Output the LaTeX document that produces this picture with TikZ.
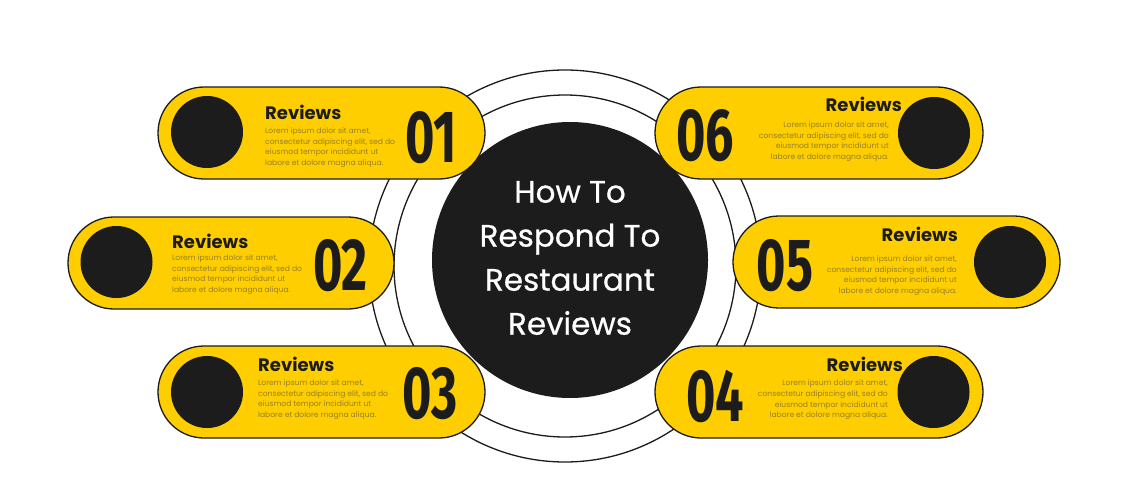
\documentclass[tikz,border=0pt]{standalone}
\usepackage{fontspec}
\usepackage{graphicx}
\setmainfont{Lato}
\newfontfamily\popp{Poppins}
\newfontfamily\poppm[FakeBold=0.6]{Poppins}
\newfontfamily\fira{Fira Sans}
\definecolor{ylw}{RGB}{254,206,0}
\definecolor{ink}{RGB}{28,28,28}
\definecolor{lorem}{RGB}{150,128,40}
\newcommand{\lorem}{Lorem ipsum dolor sit amet,\\consectetur adipiscing elit, sed do\\eiusmod tempor incididunt ut\\labore et dolore magna aliqua.}
\newcommand{\numtxt}[1]{\scalebox{0.68}[1]{#1}}
\begin{document}
\begin{tikzpicture}[x=1pt,y=-1pt,
  pill/.style={draw=ink, line width=1.3pt, fill=ylw, rounded corners=46pt, minimum height=92pt, inner sep=0pt},
  dot/.style={circle, fill=ink, draw=ink, line width=1pt, minimum size=71pt, inner sep=0pt},
  ring/.style={circle, draw=ink, line width=1.3pt, fill=white, inner sep=0pt},
  head/.style={font=\popp\bfseries\fontsize{18}{18}\selectfont, text=ink, inner sep=0pt},
  body/.style={font=\popp\fontsize{7.6}{10.6}\selectfont, text=lorem, inner sep=0pt},
  num/.style={font=\fira\bfseries\fontsize{74}{74}\selectfont, text=ink, inner sep=0pt},
  title/.style={font=\poppm\fontsize{31}{44}\selectfont, text=white, align=center, inner sep=0pt}
]
\useasboundingbox (0,0) rectangle (1140,500);
\fill[white] (0,0) rectangle (1140,500);
% rings and centre
\node[ring, minimum size=392pt] (outer) at (565,266) {};
\node[ring, minimum size=342pt] (inner) at (565,266) {};
\node[circle, fill=ink, minimum size=276pt, inner sep=0pt] (core) at (570,260) {};
% pills
\node[pill, minimum width=327pt] (p1) at (321.5,133) {};
\node[pill, minimum width=326pt] (p2) at (231,263) {};
\node[pill, minimum width=327pt] (p3) at (321.5,392) {};
\node[pill, minimum width=328pt] (p6) at (819,133) {};
\node[pill, minimum width=327pt] (p5) at (896.5,262) {};
\node[pill, minimum width=328pt] (p4) at (819,392) {};
% dots
\node[dot] (d1) at (207,132) {};
\node[dot] (d2) at (116.5,262) {};
\node[dot] (d3) at (207,392) {};
\node[dot] (d6) at (934,133) {};
\node[dot] (d5) at (1010,262) {};
\node[dot] (d4) at (933.5,392) {};
% numbers
\node[num] (n1) at (431,137.5) {\numtxt{01}};
\node[num] (n2) at (340.5,265.5) {\numtxt{02}};
\node[num] (n3) at (430,394) {\numtxt{03}};
\node[num] (n6) at (705,135.5) {\numtxt{06}};
\node[num] (n5) at (785,265.5) {\numtxt{05}};
\node[num] (n4) at (715,396) {\numtxt{04}};
% headings
\node[head, anchor=base west] (h1) at (265,120) {Reviews};
\node[head, anchor=base west] (h2) at (172,248) {Reviews};
\node[head, anchor=base west] (h3) at (258,371) {Reviews};
\node[head, anchor=base east] (h6) at (902,112) {Reviews};
\node[head, anchor=base east] (h5) at (958,241) {Reviews};
\node[head, anchor=base east] (h4) at (903,371) {Reviews};
% body texts
\node[body, anchor=north west, align=left] (b1) at (265,127.5) {\lorem};
\node[body, anchor=north west, align=left] (b2) at (172,254.5) {\lorem};
\node[body, anchor=north west, align=left] (b3) at (258,379.5) {\lorem};
\node[body, anchor=north east, align=right] (b6) at (889,121.5) {\lorem};
\node[body, anchor=north east, align=right] (b5) at (957,255.5) {\lorem};
\node[body, anchor=north east, align=right] (b4) at (888,380) {\lorem};
% title
\node[title] (t) at (570,258) {How To\\Respond To\\Restaurant\\Reviews};
\end{tikzpicture}
\end{document}
